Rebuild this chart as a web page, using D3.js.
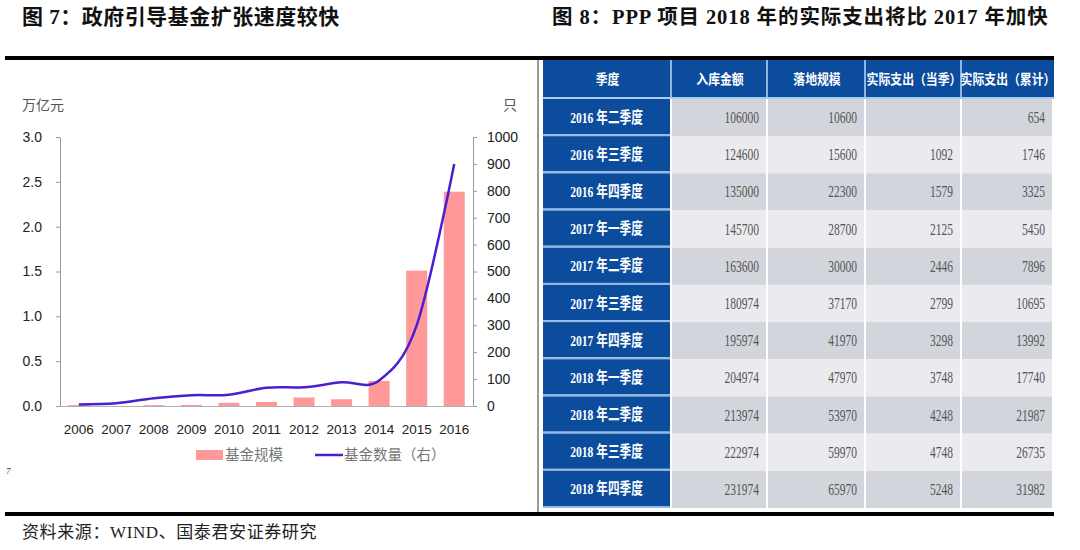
<!DOCTYPE html>
<html><head><meta charset="utf-8">
<script src="https://cdn.jsdelivr.net/npm/d3@7/dist/d3.min.js"></script>
<style>body{margin:0;background:#fff}svg{display:block}</style>
</head><body>
<svg id="c" width="1080" height="550"></svg>
<script>
// ---- Figure 7 data ----
const years = ["2006","2007","2008","2009","2010","2011","2012","2013","2014","2015","2016"];
const fundScale = [0.01,0.0,0.01,0.012,0.035,0.045,0.095,0.075,0.28,1.51,2.39]; // 万亿元
const fundCount = [6,10,29,40,42,68,70,88,95,300,900];                           // 只
const leftTicks = [0,0.5,1.0,1.5,2.0,2.5,3.0];
const rightTicks = [0,100,200,300,400,500,600,700,800,900,1000];
const legendLabels = ["基金规模","基金数量（右）"];

// ---- Figure 8 data ----
const headers = ["季度","入库金额","落地规模","实际支出（当季）","实际支出（累计）"];
const quarters = ["2016 年二季度","2016 年三季度","2016 年四季度","2017 年一季度","2017 年二季度","2017 年三季度","2017 年四季度","2018 年一季度","2018 年二季度","2018 年三季度","2018 年四季度"];
const inflow   = [106000,124600,135000,145700,163600,180974,195974,204974,213974,222974,231974];
const landed   = [10600,15600,22300,28700,30000,37170,41970,47970,53970,59970,65970];
const spendQ   = [null,1092,1579,2125,2446,2799,3298,3748,4248,4748,5248];
const spendCum = [654,1746,3325,5450,7896,10695,13992,17740,21987,26735,31982];

const svg = d3.select("#c");
const serif = "'Liberation Serif','Noto Sans CJK SC',serif";
const sans = "'Liberation Sans','Noto Sans CJK SC',sans-serif";

// titles
svg.append("text").attr("x",22).attr("y",24).attr("font-family",serif).attr("font-weight","bold")
  .attr("font-size",21).attr("letter-spacing",0.5).attr("fill","#111").text("图 7：政府引导基金扩张速度较快");
svg.append("text").attr("x",552).attr("y",24).attr("font-family",serif).attr("font-weight","bold")
  .attr("font-size",20.5).attr("letter-spacing",0.9).attr("fill","#111").text("图 8：PPP 项目 2018 年的实际支出将比 2017 年加快");

// frame rules
svg.append("rect").attr("x",5).attr("y",56).attr("width",1049).attr("height",4).attr("fill","#000");
svg.append("rect").attr("x",5).attr("y",512).attr("width",1049).attr("height",4).attr("fill","#000");
svg.append("rect").attr("x",537).attr("y",60).attr("width",2).attr("height",452).attr("fill","#9a9a9a");

svg.append("text").attr("x",22).attr("y",538).attr("font-family",serif).attr("font-size",17)
  .attr("letter-spacing",0.6).attr("fill","#222").text("资料来源：WIND、国泰君安证券研究");
svg.append("text").attr("x",6).attr("y",474).attr("font-family",serif).attr("font-style","italic")
  .attr("font-size",9).attr("fill","#333").text("7");

// ---- left chart ----
const plotL = 60, plotR = 473, y0 = 406, y1 = 137;
const x = d3.scaleBand().domain(years).range([plotL,plotR]).paddingInner(0.44).paddingOuter(0.22);
const yL = d3.scaleLinear().domain([0,3]).range([y0,y1]);
const yR = d3.scaleLinear().domain([0,1000]).range([y0,y1]);

const g = svg.append("g");
g.selectAll("rect.bar").data(years).join("rect").attr("class","bar")
  .attr("x",d=>x(d)).attr("width",x.bandwidth())
  .attr("y",(d,i)=>yL(fundScale[i])).attr("height",(d,i)=>y0-yL(fundScale[i]))
  .attr("fill","#ff9999");

const axL = g.append("g").attr("transform",`translate(${plotL},0)`)
  .call(d3.axisLeft(yL).tickValues(leftTicks).tickFormat(d3.format(".1f")).tickSizeInner(4).tickSizeOuter(0).tickPadding(14));
const axR = g.append("g").attr("transform",`translate(${plotR},0)`)
  .call(d3.axisRight(yR).tickValues(rightTicks).tickFormat(d3.format("d")).tickSizeInner(4).tickSizeOuter(0).tickPadding(10));
[axL,axR].forEach(a=>{
  a.select(".domain").attr("stroke","#9a9a9a");
  a.selectAll(".tick line").attr("stroke","#9a9a9a");
  a.selectAll(".tick text").attr("font-family",sans).attr("font-size",14).attr("fill","#222");
});
const axB = g.append("g").attr("transform",`translate(0,${y0})`)
  .call(d3.axisBottom(x).tickSize(0).tickPadding(18));
axB.select(".domain").attr("stroke","#b0b0b0");
axB.selectAll(".tick text").attr("font-family",sans).attr("font-size",13.5).attr("fill","#222");

const line = d3.line().x((d,i)=>x(years[i])+x.bandwidth()/2).y(d=>yR(d)).curve(d3.curveCatmullRom.alpha(0));
g.append("path").datum(fundCount).attr("d",line).attr("fill","none")
  .attr("stroke","#4a1fd0").attr("stroke-width",2.5);

g.append("text").attr("x",22).attr("y",110).attr("font-family",sans).attr("font-size",14).attr("fill","#555").text("万亿元");
g.append("text").attr("x",503).attr("y",110).attr("font-family",sans).attr("font-size",14).attr("fill","#555").text("只");

// legend
const lg = g.append("g");
lg.append("rect").attr("x",196).attr("y",450).attr("width",27).attr("height",10).attr("fill","#ff9999");
lg.append("text").attr("x",225).attr("y",460).attr("font-family",sans).attr("font-size",14.5).attr("fill","#777").text(legendLabels[0]);
lg.append("line").attr("x1",315).attr("x2",343).attr("y1",455).attr("y2",455).attr("stroke","#4a1fd0").attr("stroke-width",2.5);
lg.append("text").attr("x",344).attr("y",460).attr("font-family",sans).attr("font-size",14.5).attr("fill","#777").text(legendLabels[1]);

// ---- right table ----
const colEdges = [543,672,768,866,962,1054];
const navy = "#0c4c9c";
const t = svg.append("g");
const rows = d3.scaleBand().domain(d3.range(quarters.length)).range([99,508]);
const cols = d3.range(headers.length);

// header
t.append("rect").attr("x",colEdges[0]).attr("y",60).attr("width",colEdges[5]-colEdges[0]).attr("height",38).attr("fill",navy);
cols.slice(1).forEach(c=>{
  t.append("rect").attr("x",colEdges[c]-2).attr("y",60).attr("width",2).attr("height",38).attr("fill","#8fb6e0");
});
t.append("rect").attr("x",colEdges[0]).attr("y",97).attr("width",colEdges[5]-colEdges[0]).attr("height",2).attr("fill","#a8cbef");
t.selectAll("g.h").data(headers).join("g").attr("class","h")
  .attr("transform",(d,i)=>`translate(${(colEdges[i]+colEdges[i+1])/2},${84}) scale(0.88,1)`)
  .append("text").attr("text-anchor","middle").attr("font-family",serif).attr("font-weight","bold")
  .attr("font-size",13.5).attr("fill","#fff").text(d=>d);

// body
const table = quarters.map((q,i)=>[q,inflow[i],landed[i],spendQ[i],spendCum[i]]);
table.forEach((row,r)=>{
  const yTop = rows(r), h = rows.bandwidth();
  row.forEach((v,c)=>{
    const xl = colEdges[c], xr = colEdges[c+1]-2;
    let fill = c===0 ? navy : (r%2===0 ? "#d3d5dc" : "#ebebef");
    t.append("rect").attr("x",xl).attr("y",yTop).attr("width",xr-xl).attr("height",c===0? h-2 : h).attr("fill",fill);
    if (c===0) {
      t.append("rect").attr("x",xl).attr("y",yTop+h-2).attr("width",xr-xl).attr("height",2).attr("fill","#8fbbe8");
      t.append("g").attr("transform",`translate(${(xl+xr)/2},${yTop+h/2+5}) scale(0.75,1)`)
        .append("text").attr("text-anchor","middle").attr("font-family",serif).attr("font-weight","bold")
        .attr("font-size",15.5).attr("fill","#fff").text(v);
    } else if (v!==null) {
      t.append("g").attr("transform",`translate(${xr-7},${yTop+h/2+5.5}) scale(0.72,1)`)
        .append("text").attr("text-anchor","end").attr("font-family",serif)
        .attr("font-size",16).attr("fill","#555").text(v);
    }
  });
});
</script>
</body></html>
